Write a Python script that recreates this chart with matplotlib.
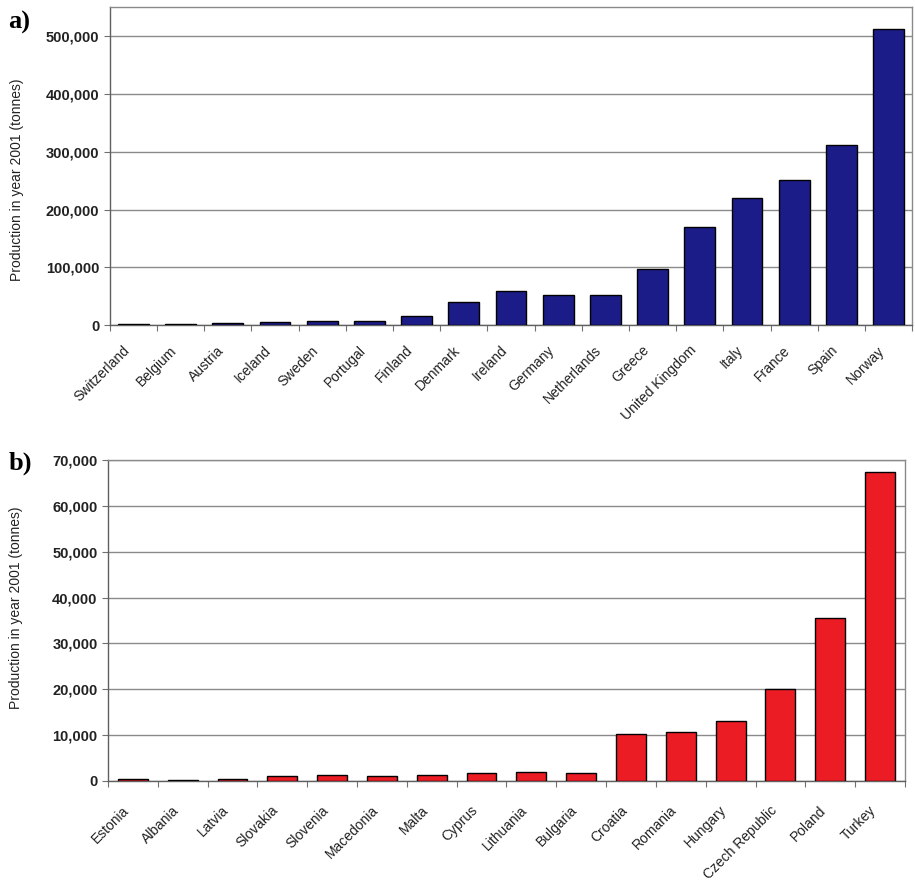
import matplotlib
matplotlib.use("Agg")
import matplotlib.pyplot as plt
from matplotlib.ticker import FuncFormatter, FixedLocator
from matplotlib.transforms import ScaledTranslation

plt.rcParams['font.family'] = ['Liberation Sans', 'DejaVu Sans']

# panel a) western Europe
west_countries = ['Switzerland', 'Belgium', 'Austria', 'Iceland', 'Sweden', 'Portugal',
                  'Finland', 'Denmark', 'Ireland', 'Germany', 'Netherlands', 'Greece',
                  'United Kingdom', 'Italy', 'France', 'Spain', 'Norway']
west_values = [1500, 2000, 3000, 5000, 7000, 8000, 16000, 41000, 60000, 53000, 52000,
               98000, 170000, 220000, 251000, 311000, 513000]

# panel b) central / eastern Europe
east_countries = ['Estonia', 'Albania', 'Latvia', 'Slovakia', 'Slovenia', 'Macedonia',
                  'Malta', 'Cyprus', 'Lithuania', 'Bulgaria', 'Croatia', 'Romania',
                  'Hungary', 'Czech Republic', 'Poland', 'Turkey']
east_values = [500, 300, 450, 1000, 1300, 1100, 1200, 1800, 2000, 1700, 10150, 10700,
               13100, 20100, 35500, 67500]


def comma(v, pos):
    return '{:,.0f}'.format(v)


def draw_panel(fig, ax, names, values, color, ymax, ystep, width, pad, ylab_y):
    n = len(names)
    x = list(range(n))
    ax.bar(x, values, width=width, color=color, edgecolor='black', linewidth=1.0, zorder=3)
    ax.set_xlim(-0.5, n - 0.5)
    ax.set_ylim(0, ymax)
    ax.set_yticks(list(range(0, int(ystep * (ymax // ystep)) + 1, int(ystep))))
    ax.yaxis.set_major_formatter(FuncFormatter(comma))
    ax.grid(axis='y', color='#8a8a8a', linewidth=1.0, zorder=0)

    # tick marks between categories, labels at centres
    ax.xaxis.set_major_locator(FixedLocator([i - 0.5 for i in range(n + 1)]))
    ax.xaxis.set_major_formatter(FuncFormatter(lambda v, p: ''))
    ax.set_xticks(x, minor=True)
    ax.set_xticklabels(names, minor=True, rotation=45, ha='right', rotation_mode='anchor',
                       fontsize=10, color='#222222')
    ax.tick_params(axis='x', which='minor', length=0, pad=pad)
    ax.tick_params(axis='x', which='major', length=4, color='#707070')
    ax.tick_params(axis='y', length=4, color='#707070', labelsize=10.5, labelcolor='#222222')
    for lab in ax.get_yticklabels():
        lab.set_fontweight('bold')

    # nudge the slanted labels left, like the original
    shift = ScaledTranslation(-11 / 100, 0, fig.dpi_scale_trans)
    for tick in ax.xaxis.get_minor_ticks():
        tick.label1.set_transform(tick.label1.get_transform() + shift)

    for s in ax.spines.values():
        s.set_color('#8a8a8a')
        s.set_linewidth(1.0)
    ax.spines['left'].set_color('#606060')
    ax.spines['bottom'].set_color('#606060')

    ax.set_ylabel('Production in year 2001 (tonnes)', fontsize=10, color='#222222')
    ax.yaxis.set_label_coords(-0.107, ylab_y)


fig = plt.figure(figsize=(9.15, 8.91), dpi=100)
ax1 = fig.add_axes([0.120, 0.635, 0.877, 0.357])
ax2 = fig.add_axes([0.118, 0.1235, 0.871, 0.360])

draw_panel(fig, ax1, west_countries, west_values, '#1c1c88', 550000, 100000, 0.65, 13, 0.456)
draw_panel(fig, ax2, east_countries, east_values, '#ec1c24', 70000, 10000, 0.6, 16, 0.539)

fig.text(0.009, 0.988, 'a)', fontsize=19, fontweight='bold', family='Liberation Serif',
         va='top', ha='left')
fig.text(0.009, 0.493, 'b)', fontsize=19, fontweight='bold', family='Liberation Serif',
         va='top', ha='left')

fig.savefig('out.png', dpi=100)
